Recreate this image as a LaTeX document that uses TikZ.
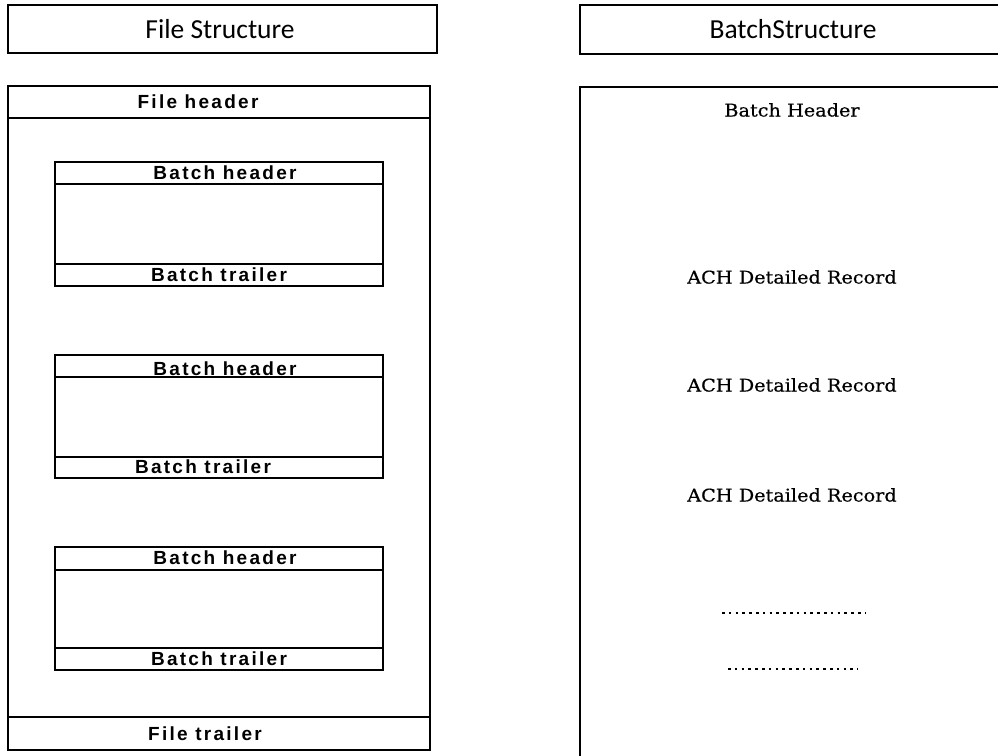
\documentclass[tikz,border=0pt]{standalone}
\usepackage{fontspec}
\newfontfamily\ttlfont{Carlito}
\newfontfamily\labfont[LetterSpace=12]{Liberation Sans}
\newfontfamily\serfont[FakeStretch=1.1,FakeBold=0.6]{DejaVu Serif}
\begin{document}
\begin{tikzpicture}[x=1pt,y=-1pt,
  box/.style={draw=black,line width=2.4pt},
  ttl/.style={font=\ttlfont\fontsize{27.5}{30}\selectfont,inner sep=0pt},
  lab/.style={font=\labfont\bfseries\fontsize{19}{21}\selectfont,inner sep=0pt},
  ser/.style={font=\serfont\fontsize{17.5}{20}\selectfont,inner sep=0pt},
  dots/.style={line width=2.6pt,dash pattern=on 2.6pt off 4.2pt}]
\useasboundingbox[fill=white] (0,0) rectangle (998,755);
% left title
\draw[box,line width=2.8pt] (8,5) rectangle (437,53);
\node[ttl] (t1) at (220,29) {File Structure};
% right title (runs off the page)
\draw[box,line width=2.8pt] (1005,5) -- (580,5) -- (580,54) -- (1005,54);
\node[ttl] (t2) at (793,29) {BatchStructure};
% file box
\draw[box] (8,86) rectangle (430,750);
\draw[box] (8,118) -- (430,118);
\draw[box] (8,717) -- (430,717);
\node[lab] (fh) at (198,102) {File header};
\node[lab] (ft) at (205,734) {File trailer};
% batch boxes
\draw[box] (55,162) rectangle (383,286);
\draw[box] (55,184) -- (383,184);
\draw[box] (55,264) -- (383,264);
\node[lab] (bh1) at (225,173) {Batch header};
\node[lab] (bt1) at (219,275) {Batch trailer};
\draw[box] (55,355) rectangle (383,478);
\draw[box] (55,377) -- (383,377);
\draw[box] (55,457) -- (383,457);
\node[lab] (bh2) at (225,369) {Batch header};
\node[lab] (bt2) at (203,467) {Batch trailer};
\draw[box] (55,547) rectangle (383,670);
\draw[box] (55,570) -- (383,570);
\draw[box] (55,648) -- (383,648);
\node[lab] (bh3) at (225,558) {Batch header};
\node[lab] (bt3) at (219,659) {Batch trailer};
% batch structure box (open at right and bottom)
\draw[box] (1005,87) -- (580,87) -- (580,760);
\node[ser] (bh) at (792,110) {Batch Header};
\node[ser] (r1) at (792,277) {ACH Detailed Record};
\node[ser] (r2) at (792,385) {ACH Detailed Record};
\node[ser] (r3) at (792,495) {ACH Detailed Record};
\coordinate (d1a) at (722,613);
\coordinate (d1b) at (866,613);
\coordinate (d2a) at (728,669);
\coordinate (d2b) at (858,669);
\draw[dots] (d1a) -- (d1b);
\draw[dots] (d2a) -- (d2b);
\end{tikzpicture}
\end{document}
